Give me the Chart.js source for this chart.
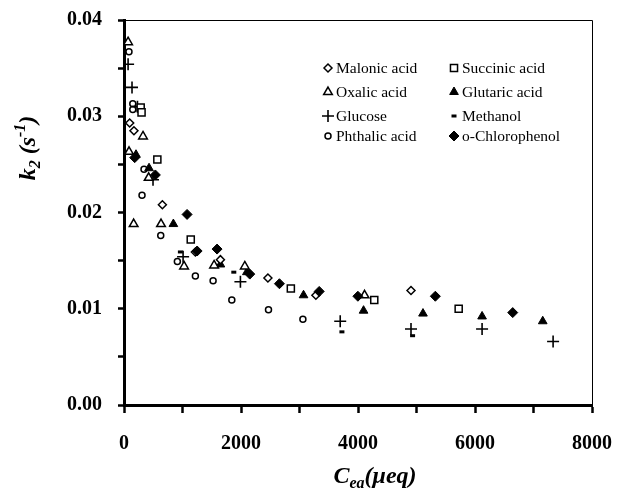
<!DOCTYPE html>
<html>
<head>
<meta charset="utf-8">
<script src="https://cdn.jsdelivr.net/npm/chart.js@4.4.0/dist/chart.umd.min.js"></script>
<style>
  html, body { margin: 0; padding: 0; background: #fff; }
</style>
</head>
<body>
<canvas id="chart" width="622" height="489"></canvas>
<script>
// Cea (ueq) vs k2 (s^-1)

const malonicX = [97, 170, 656, 1220, 1648, 2460, 3280, 4906];
const malonicY = [0.0293, 0.0285, 0.0208, 0.0159, 0.0151, 0.0132, 0.0114, 0.0119];

const succinicX = [285, 300, 570, 1141, 2852, 4278, 5721];
const succinicY = [0.0309, 0.0304, 0.0255, 0.0172, 0.0121, 0.0109, 0.0100];

const oxalicX = [70, 86, 325, 422, 165, 633, 1027, 1540, 2065, 4112];
const oxalicY = [0.0377, 0.0263, 0.0279, 0.0236, 0.0188, 0.0188, 0.0144, 0.0145, 0.0144, 0.0114];

const glutaricX = [205, 428, 844, 1648, 2100, 3069, 4095, 5111, 6121, 7158];
const glutaricY = [0.0260, 0.0246, 0.0188, 0.0146, 0.0138, 0.0114, 0.0098, 0.0095, 0.0092, 0.0087];

const glucoseX = [70, 137, 230, 496, 1010, 1990, 3696, 4906, 6121, 7335];
const glucoseY = [0.0354, 0.0330, 0.0310, 0.0234, 0.0154, 0.0128, 0.0087, 0.0079, 0.0079, 0.0066];

const methanolX = [964, 1877, 3725, 4933];
const methanolY = [0.0159, 0.0138, 0.0076, 0.0072];

const phthalicX = [85, 150, 150, 342, 308, 628, 912, 1220, 1523, 1843, 2470, 3058];
const phthalicY = [0.0367, 0.0313, 0.0307, 0.0245, 0.0218, 0.0176, 0.0149, 0.0134, 0.0129, 0.0109, 0.0099, 0.0089];

const chloroX = [183, 536, 1078, 1250, 1591, 2150, 2657, 3337, 3998, 5322, 6645];
const chloroY = [0.0257, 0.0239, 0.0198, 0.0160, 0.0162, 0.0136, 0.0126, 0.0118, 0.0113, 0.0113, 0.0096];

const yTicks = [0, 0.01, 0.02, 0.03, 0.04];
const xTicks = [0, 2000, 4000, 6000, 8000];

const pts = (xs, ys) => xs.map((x, i) => ({ x: x, y: ys[i] }));

function series(label, xs, ys, style, radius, fill, bw) {
  return {
    label: label,
    data: pts(xs, ys),
    pointStyle: style,
    pointRadius: radius,
    pointBackgroundColor: fill,
    pointBorderColor: '#000',
    pointBorderWidth: bw,
    showLine: false
  };
}

const datasets = [
  series('o-Chlorophenol', chloroX, chloroY, 'rectRot', 5, '#000', 1),
  series('Malonic acid', malonicX, malonicY, 'rectRot', 4, '#fff', 1.5),
  series('Succinic acid', succinicX, succinicY, 'rect', 5, '#fff', 1.5),
  series('Oxalic acid', oxalicX, oxalicY, 'triangle', 5, '#fff', 1.5),
  series('Glutaric acid', glutaricX, glutaricY, 'triangle', 5, '#000', 1),
  series('Glucose', glucoseX, glucoseY, 'cross', 6, '#000', 1.6),
  series('Methanol', methanolX, methanolY, 'line', 2.5, '#000', 3),
  series('Phthalic acid', phthalicX, phthalicY, 'circle', 3, '#fff', 1.5)
];

// legend: two columns, drawn by hand
const legendRows = [
  ['Malonic acid', 'Succinic acid'],
  ['Oxalic acid', 'Glutaric acid'],
  ['Glucose', 'Methanol'],
  ['Phthalic acid', 'o-Chlorophenol']
];

const legendPlugin = {
  id: 'gridLegend',
  afterDraw(chart) {
    const ctx = chart.ctx;
    const colX = [328, 454];
    const rowY = [68, 92, 116, 136];
    ctx.save();
    ctx.font = '15.5px "Liberation Serif", "Times New Roman", serif';
    ctx.textBaseline = 'middle';
    ctx.fillStyle = '#000';
    legendRows.forEach((row, r) => {
      row.forEach((name, c) => {
        const ds = chart.data.datasets.find(d => d.label === name);
        const x = colX[c], y = rowY[r];
        ctx.fillStyle = ds.pointBackgroundColor;
        ctx.strokeStyle = '#000';
        ctx.lineWidth = ds.pointBorderWidth;
        Chart.helpers.drawPoint(ctx, {
          pointStyle: ds.pointStyle,
          radius: ds.pointRadius,
          borderWidth: ds.pointBorderWidth,
          rotation: 0
        }, x, y);
        ctx.fillStyle = '#000';
        ctx.textAlign = 'left';
        ctx.fillText(name, x + 8, y + 1);
      });
    });
    ctx.restore();
  }
};

// thin frame on top and right, and axis titles with sub/superscripts
const framePlugin = {
  id: 'frame',
  beforeDatasetsDraw(chart) {
    const a = chart.chartArea;
    const ctx = chart.ctx;
    ctx.save();
    ctx.strokeStyle = '#000';
    ctx.lineWidth = 1;
    ctx.beginPath();
    ctx.moveTo(a.left, a.top + 0.5);
    ctx.lineTo(a.right + 0.5, a.top + 0.5);
    ctx.lineTo(a.right + 0.5, a.bottom);
    ctx.stroke();
    ctx.restore();
  },
  afterDraw(chart) {
    const ctx = chart.ctx;
    const big = 'italic bold 24px "Liberation Serif", "Times New Roman", serif';
    const small = 'italic bold 16px "Liberation Serif", "Times New Roman", serif';
    ctx.save();
    ctx.fillStyle = '#000';
    ctx.textBaseline = 'alphabetic';
    ctx.textAlign = 'left';

    // x title: C_ea(ueq)
    let parts = [['C', big, 0], ['ea', small, 5], ['(\u03bceq)', big, 0]];
    let w = 0;
    parts.forEach(p => { ctx.font = p[1]; w += ctx.measureText(p[0]).width; });
    let x = 375 - w / 2;
    parts.forEach(p => {
      ctx.font = p[1];
      ctx.fillText(p[0], x, 483 + p[2]);
      x += ctx.measureText(p[0]).width;
    });

    // y title: k2 (s-1)
    ctx.translate(35, 148);
    ctx.rotate(-Math.PI / 2);
    parts = [['k', big, 0], ['2', small, 5], [' (s', big, 0], ['-1', small, -10], [')', big, 0]];
    w = 0;
    parts.forEach(p => { ctx.font = p[1]; w += ctx.measureText(p[0]).width; });
    x = -w / 2;
    parts.forEach(p => {
      ctx.font = p[1];
      ctx.fillText(p[0], x, p[2]);
      x += ctx.measureText(p[0]).width;
    });
    ctx.restore();
  }
};

const tickFont = { family: '"Liberation Serif", "Times New Roman", serif', size: 20, weight: 'bold' };

new Chart(document.getElementById('chart'), {
  type: 'scatter',
  data: { datasets: datasets },
  options: {
    responsive: false,
    animation: false,
    events: [],
    layout: { padding: { top: 20, right: 30, left: 0, bottom: 0 } },
    plugins: {
      legend: { display: false },
      tooltip: { enabled: false }
    },
    scales: {
      x: {
        type: 'linear',
        min: 0,
        max: 8000,
        afterFit: s => {
          s.height = 84;
          s.paddingLeft = 0;
          s.paddingRight = 0;
        },
        border: { color: '#000', width: 3 },
        grid: { drawOnChartArea: false, drawTicks: true, tickLength: 8, tickWidth: 2.5, color: '#000' },
        ticks: {
          stepSize: 1000,
          color: '#000',
          font: tickFont,
          padding: 19,
          maxRotation: 0,
          callback: v => xTicks.includes(v) ? String(v) : ''
        }
      },
      y: {
        type: 'linear',
        min: 0,
        max: 0.04,
        afterFit: s => {
          s.width = 124;
          s.paddingTop = 0;
          s.paddingBottom = 0;
        },
        border: { color: '#000', width: 3 },
        grid: { drawOnChartArea: false, drawTicks: true, tickLength: 6, tickWidth: 2.5, color: '#000' },
        ticks: {
          stepSize: 0.005,
          color: '#000',
          font: tickFont,
          padding: 16,
          callback: v => {
            const hit = yTicks.some(t => Math.abs(t - v) < 1e-9);
            return hit ? v.toFixed(2) : '';
          }
        }
      }
    }
  },
  plugins: [framePlugin, legendPlugin]
});
</script>
</body>
</html>
